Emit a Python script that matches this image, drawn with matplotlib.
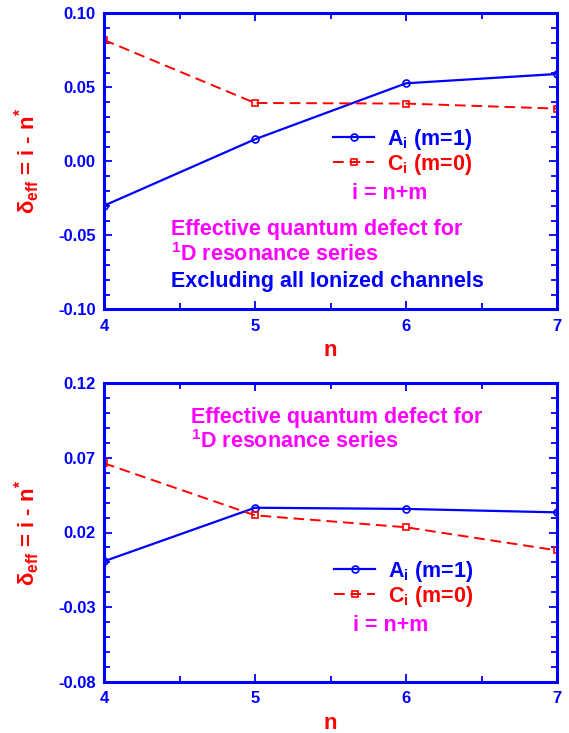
import matplotlib
matplotlib.use("Agg")
import matplotlib.pyplot as plt
from matplotlib.ticker import MultipleLocator, FormatStrFormatter

plt.rcParams['font.family'] = ['Liberation Sans', 'DejaVu Sans']
plt.rcParams['font.weight'] = 'bold'
plt.rcParams['mathtext.fontset'] = 'custom'
plt.rcParams['mathtext.rm'] = 'Liberation Sans:bold'
plt.rcParams['mathtext.bf'] = 'Liberation Sans:bold'
plt.rcParams['mathtext.it'] = 'Liberation Sans:bold'
plt.rcParams['mathtext.sf'] = 'Liberation Sans:bold'

# ---- data ----
n_vals = [4, 5, 6, 7]
top_A = [-0.030, 0.0149, 0.0527, 0.059]
top_C = [0.082, 0.0394, 0.0390, 0.0356]
bot_A = [0.0007, 0.0366, 0.0358, 0.0335]
bot_C = [0.0664, 0.0315, 0.0235, 0.0080]
top_yticks = [-0.10, -0.05, 0.00, 0.05, 0.10]
bot_yticks = [-0.08, -0.03, 0.02, 0.07, 0.12]
xticks = [4, 5, 6, 7]

BLUE = '#0000ff'
RED = '#ff0000'
MAG = '#ff00ff'

fig = plt.figure(figsize=(5.69, 7.33), dpi=100)
W, H = 569, 733

def add_axes(left, top, right, bottom):
    return fig.add_axes([left / W, 1 - bottom / H, (right - left) / W, (bottom - top) / H])

ax1 = add_axes(104, 13.3, 557, 309.3)
ax2 = add_axes(104, 383.3, 557, 681.7)

def style(ax, yticks):
    ax.set_xlim(4, 7)
    ax.set_ylim(yticks[0], yticks[-1])
    ax.set_xticks(xticks)
    ax.set_yticks(yticks)
    ax.xaxis.set_minor_locator(MultipleLocator(0.5))
    ax.yaxis.set_minor_locator(MultipleLocator(0.01))
    ax.yaxis.set_major_formatter(FormatStrFormatter('%.2f'))
    for s in ax.spines.values():
        s.set_color(BLUE)
        s.set_linewidth(2.2)
    ax.tick_params(which='both', direction='in', top=True, right=True,
                   colors=BLUE, labelcolor=BLUE, width=1.3)
    ax.tick_params(which='major', length=6)
    ax.tick_params(which='minor', length=4)
    ax.tick_params(axis='x', which='major', pad=7, labelsize=12)
    ax.tick_params(axis='y', which='major', pad=6, labelsize=12)
    for lab in ax.get_xticklabels() + ax.get_yticklabels():
        lab.set_fontweight('bold')
    ax.set_xlabel('n', color=RED, fontsize=16, fontweight='bold')
    ax.set_ylabel(r'$\delta_{\mathbf{eff}}$ = i - n$^{*}$', color=RED,
                  fontsize=16, fontweight='bold')

def draw(ax, A, C, yticks, leg_x, leg_y, inm_y):
    la, = ax.plot(n_vals, A, '-', color=BLUE, lw=1.6, marker='o', ms=5,
                  mfc='none', mec=BLUE, mew=1.2)
    lc, = ax.plot(n_vals, C, '--', color=RED, lw=1.4, marker='s', ms=4.5,
                  mfc='none', mec=RED, mew=1.2, dashes=(5.5, 3))
    style(ax, yticks)
    ax.legend([la, lc], [r'A$_{\mathbf{i}}$ (m=1)', r'C$_{\mathbf{i}}$ (m=0)'],
              loc='center left', bbox_to_anchor=(leg_x, leg_y),
              frameon=False, handlelength=1.9,
              handletextpad=0.6, labelspacing=0.0, borderpad=0,
              borderaxespad=0, labelcolor=[BLUE, RED],
              prop={'weight': 'bold', 'size': 15.5})
    ax.text(leg_x + 0.042, inm_y, 'i = n+m', color=MAG, fontsize=15.5,
            fontweight='bold', transform=ax.transAxes, ha='left', va='center')

draw(ax1, top_A, top_C, top_yticks, 0.506, 0.533, 0.392)
draw(ax2, bot_A, bot_C, bot_yticks, 0.508, 0.328, 0.190)

FS = 15.5
ax1.text(0.149, 0.268, 'Effective quantum defect for', color=MAG, fontsize=FS,
         fontweight='bold', transform=ax1.transAxes, ha='left', va='center')
ax1.text(0.149, 0.185, r'$^{\mathbf{1}}$D resonance series', color=MAG, fontsize=FS,
         fontweight='bold', transform=ax1.transAxes, ha='left', va='center')
ax1.text(0.149, 0.093, 'Excluding all Ionized channels', color=BLUE, fontsize=FS,
         fontweight='bold', transform=ax1.transAxes, ha='left', va='center')

ax2.text(0.193, 0.886, 'Effective quantum defect for', color=MAG, fontsize=FS,
         fontweight='bold', transform=ax2.transAxes, ha='left', va='center')
ax2.text(0.193, 0.805, r'$^{\mathbf{1}}$D resonance series', color=MAG, fontsize=FS,
         fontweight='bold', transform=ax2.transAxes, ha='left', va='center')

for ax in (ax1, ax2):
    ax.yaxis.set_label_coords(-0.136, 0.5)
    ax.xaxis.set_label_coords(0.5, -0.105)

fig.savefig('out.png', dpi=100)
